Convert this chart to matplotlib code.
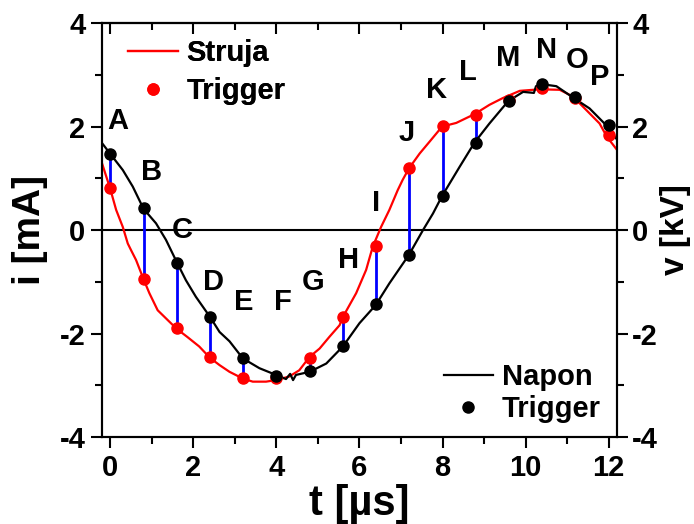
import matplotlib
matplotlib.use("Agg")
import matplotlib.pyplot as plt
from matplotlib import font_manager
from matplotlib.lines import Line2D
from matplotlib.ticker import MultipleLocator

# ---------------------------------------------------------------
# data (t in us, current in mA, voltage in kV)
# ---------------------------------------------------------------
t_struja = [-0.2, 0.0, 0.14, 0.3, 0.42, 0.5, 0.62, 0.8, 0.94, 1.14, 1.42, 1.6,
            1.86, 2.14, 2.4, 2.63, 2.87, 3.19, 3.43, 3.75, 3.99, 4.31, 4.55,
            4.8, 5.04, 5.28, 5.52, 5.6, 5.92, 6.16, 6.32, 6.52, 6.72, 6.92,
            7.04, 7.19, 7.45, 7.69, 7.99, 8.33, 8.77, 9.13, 9.45, 9.86, 10.34,
            10.82, 11.14, 11.46, 11.78, 11.96, 12.2]
struja = [1.29, 0.79, 0.39, 0.06, -0.26, -0.39, -0.58, -0.95, -1.22, -1.55,
          -1.77, -1.91, -2.07, -2.25, -2.47, -2.61, -2.74, -2.87, -2.93, -2.93,
          -2.90, -2.83, -2.71, -2.45, -2.29, -2.06, -1.84, -1.68, -1.22, -0.77,
          -0.32, 0.06, 0.39, 0.77, 0.97, 1.19, 1.48, 1.71, 2.00, 2.07, 2.24,
          2.42, 2.55, 2.69, 2.72, 2.71, 2.58, 2.32, 2.06, 1.80, 1.55]

t_napon = [-0.2, 0.02, 0.3, 0.54, 0.8, 1.1, 1.34, 1.6, 1.82, 2.06, 2.41, 2.63,
           2.87, 3.19, 3.59, 3.99, 4.23, 4.33, 4.4, 4.47, 4.8, 5.2, 5.6, 6.0,
           6.39, 6.72, 7.19, 7.53, 7.77, 7.99, 8.41, 8.77, 9.13, 9.58, 9.94,
           10.2, 10.25, 10.38, 10.74, 11.18, 11.54, 11.96, 12.2]
napon = [1.68, 1.45, 1.16, 0.84, 0.41, 0.13, -0.19, -0.62, -0.97, -1.29, -1.69,
         -1.97, -2.15, -2.48, -2.67, -2.80, -2.88, -2.78, -2.90, -2.80, -2.74,
         -2.58, -2.25, -1.80, -1.45, -1.03, -0.48, 0.00, 0.32, 0.66, 1.22,
         1.69, 2.06, 2.49, 2.67, 2.65, 2.78, 2.82, 2.78, 2.54, 2.35, 2.01, 1.75]

t_trigger = [0.0, 0.8, 1.6, 2.4, 3.2, 4.0, 4.8, 5.6, 6.4, 7.2, 8.0, 8.8, 9.6,
             10.4, 11.2, 12.0]
i_trigger = [0.81, -0.95, -1.89, -2.45, -2.86, -2.86, -2.47, -1.68, -0.31,
             1.20, 2.01, 2.22, 2.52, 2.74, 2.55, 1.84]
v_trigger = [1.47, 0.43, -0.64, -1.68, -2.47, -2.82, -2.72, -2.24, -1.43,
             -0.48, 0.66, 1.68, 2.49, 2.82, 2.57, 2.03]
point_names = list("ABCDEFGHIJKLMNOP")
name_t = [0.17, 1.0, 1.74, 2.48, 3.22, 4.15, 4.87, 5.73, 6.39, 7.14, 7.86,
          8.6, 9.59, 10.51, 11.25, 11.78]
name_y = [2.1, 1.12, 0.0, -1.0, -1.4, -1.4, -1.0, -0.58, 0.52, 1.87, 2.7,
          3.05, 3.32, 3.48, 3.28, 2.96]

# fonts: narrow bold if available (reference text looks condensed)
names = {f.name for f in font_manager.fontManager.ttflist}
NARROW = "Liberation Sans Narrow" if "Liberation Sans Narrow" in names else "Liberation Sans"
plt.rcParams["font.family"] = [NARROW, "Liberation Sans", "DejaVu Sans"]
plt.rcParams["font.weight"] = "bold"
plt.rcParams["axes.linewidth"] = 1.5
plt.rcParams["axes.unicode_minus"] = False

fig = plt.figure(figsize=(6.94, 5.24), dpi=100)
ax = fig.add_axes([0.147, 0.166, 0.742, 0.790])
ax2 = ax.twinx()

ax.axhline(0, color="black", linewidth=1.5, zorder=1)
ax.vlines(t_trigger, i_trigger, v_trigger, color="#0000ff", linewidth=2, zorder=2)
ax.plot(t_struja, struja, color="#ff0000", linewidth=1.6, zorder=3)
ax.plot(t_napon, napon, color="black", linewidth=1.6, zorder=3)
ax.plot(t_trigger, i_trigger, "o", color="#ff0000", markersize=8, zorder=4)
ax.plot(t_trigger, v_trigger, "o", color="black", markersize=8, zorder=4)

for name, x, y in zip(point_names, name_t, name_y):
    ax.text(x, y, name, fontsize=21, fontweight="bold", ha="center", va="center")

ax.set_xlim(-0.2, 12.2)
ax.set_ylim(-4, 4)
ax2.set_ylim(-4, 4)
ax.xaxis.set_major_locator(MultipleLocator(2))
ax.xaxis.set_minor_locator(MultipleLocator(1))
for a in (ax, ax2):
    a.yaxis.set_major_locator(MultipleLocator(2))
    a.yaxis.set_minor_locator(MultipleLocator(1))

ax.tick_params(axis="both", which="major", length=8, width=1.5, labelsize=21, pad=4)
ax.tick_params(axis="both", which="minor", length=5, width=1.5)
ax2.tick_params(axis="y", which="major", length=8, width=1.5, labelsize=21, pad=3)
ax2.tick_params(axis="y", which="minor", length=5, width=1.5)
for lab in ax.get_xticklabels() + ax.get_yticklabels() + ax2.get_yticklabels():
    lab.set_fontweight("bold")

# top axis: ticks pointing inwards, no labels
top = ax.secondary_xaxis("top")
top.xaxis.set_major_locator(MultipleLocator(2))
top.xaxis.set_minor_locator(MultipleLocator(1))
top.tick_params(which="major", direction="in", length=8, width=1.5, labelsize=0)
top.tick_params(which="minor", direction="in", length=5, width=1.5)
top.set_xticklabels([])

ax.set_xlabel("t [\u00b5s]", fontsize=30, fontweight="bold", labelpad=2)
ax.set_ylabel("i [mA]", fontsize=28, fontweight="bold", family="Liberation Sans", labelpad=8)
ax2.set_ylabel("v [kV]", fontsize=24, fontweight="bold", family="Liberation Sans", labelpad=1)

leg1 = ax.legend(handles=[Line2D([], [], color="#ff0000", linewidth=1.6),
                          Line2D([], [], marker="o", linestyle="none",
                                 color="#ff0000", markersize=8)],
                 labels=["Struja", "Trigger"], loc="upper left",
                 bbox_to_anchor=(0.0, 1.025), frameon=False, handlelength=1.7,
                 handletextpad=0.3, labelspacing=0.35,
                 prop={"size": 21, "weight": "bold"})
ax.add_artist(leg1)
ax2.legend(handles=[Line2D([], [], color="black", linewidth=1.6),
                    Line2D([], [], marker="o", linestyle="none",
                           color="black", markersize=8)],
           labels=["Napon", "Trigger"], loc="lower right",
           bbox_to_anchor=(1.02, -0.03), frameon=False, handlelength=1.7,
           handletextpad=0.3, labelspacing=0.15,
           prop={"size": 21, "weight": "bold"})

fig.savefig("out.png", dpi=100)
